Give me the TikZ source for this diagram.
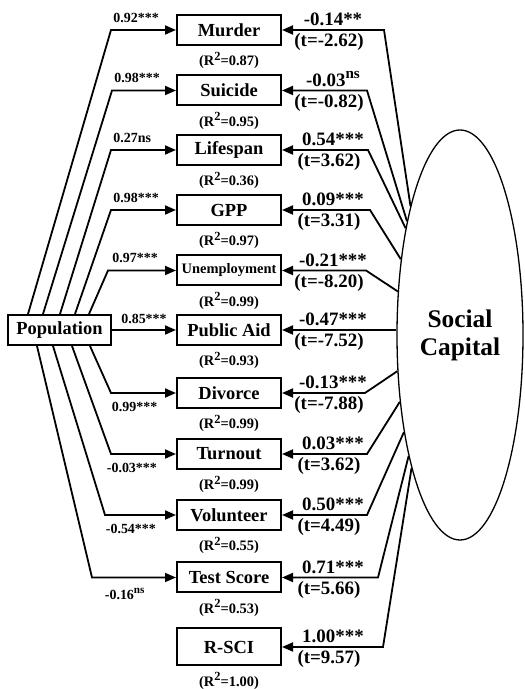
\documentclass[tikz,border=0pt]{standalone}
\usepackage{fontspec}
\setmainfont{Liberation Serif}
\usepackage{tikz}
\usetikzlibrary{arrows.meta,calc,positioning,shapes.geometric}
\newcommand{\lbl}{\fontsize{14}{16}\selectfont\bfseries}
\newcommand{\rlbl}{\fontsize{14.5}{16}\selectfont\bfseries}
\newcommand{\coef}{\fontsize{19}{21}\selectfont\bfseries}
\newcommand{\sq}{\raisebox{.4em}{\fontsize{12.5}{12.5}\selectfont 2}}
\newcommand{\ns}{\raisebox{.4em}{\fontsize{.8em}{1em}\selectfont ns}}
\tikzset{
  >={Triangle[length=11bp,width=9bp]},
  every node/.style={font=\bfseries},
  var/.style={draw,line width=2bp,minimum width=104bp,minimum height=30bp,inner sep=0pt,font=\fontsize{18.5}{20}\selectfont\bfseries},
  rsq/.style={inner sep=0pt,font=\rlbl},
  lu/.style={pos=0,anchor=base west,inner sep=0pt,yshift=7.5bp,xshift=1.5bp,font=\lbl},
  ld/.style={pos=0,anchor=north west,inner sep=0pt,yshift=-8bp,font=\lbl},
  lm/.style={midway,anchor=base,inner sep=0pt,yshift=6bp,font=\lbl},
  ru/.style={anchor=base,inner sep=0pt,yshift=4bp,font=\coef},
  rd/.style={anchor=north,inner sep=0pt,yshift=-3.5bp,font=\coef},
  link/.style={->,line width=1.8bp,line join=miter},
}
\begin{document}
\begin{tikzpicture}[x=1bp,y=1bp]
  \useasboundingbox (0,0) rectangle (525,689);
  % latent factor and exogenous variable
  \node[ellipse,draw,line width=1.3bp,minimum width=126bp,minimum height=410bp,inner sep=0pt,
        align=center,font=\fontsize{25.5}{28}\selectfont\bfseries] (sc) at (460,354) {Social\\Capital};
  \node[var,minimum width=103bp] (pop) at (59.5,359) {Population};
  % indicators
  \node[var] (mur) at (229,659) {Murder};
  \node[var] (sui) at (229,598.5) {Suicide};
  \node[var] (life) at (229,539) {Lifespan};
  \node[var] (gpp) at (229,479) {GPP};
  \node[var,font=\fontsize{14.5}{16}\selectfont\bfseries] (unem) at (229,418.5) {Unemployment};
  \node[var] (pa) at (229,359) {Public Aid};
  \node[var] (div) at (229,296) {Divorce};
  \node[var] (turn) at (229,235) {Turnout};
  \node[var] (vol) at (229,174) {Volunteer};
  \node[var] (test) at (229,111.5) {Test Score};
  \node[var,minimum height=37bp] (rsci) at (229,42) {R-SCI};
  \foreach \n/\r in {mur/0.87,sui/0.95,life/0.36,gpp/0.97,unem/0.99,pa/0.93,div/0.99,turn/0.99,vol/0.55,test/0.53,rsci/1.00}
    \node[rsq] (\n-r) at ($(\n.south)+(0,-14.5)$) {(R\sq=\r)};
  % paths from Population
  \draw[link] ([xshift=-31.5bp]pop.north) -- (111,659) -- node[lu] (mur-l) {0.92***} (mur);
  \draw[link] ([xshift=-16.5bp]pop.north) -- (112,598.5) -- node[lu] (sui-l) {0.98***} (sui);
  \draw[link] ([xshift=0.5bp]pop.north) -- (111,539) -- node[lu] (life-l) {0.27ns} (life);
  \draw[link] ([xshift=15.5bp]pop.north) -- (111,479) -- node[lu] (gpp-l) {0.98***} (gpp);
  \draw[link] ([xshift=29.5bp]pop.north) -- (108,418.5) -- node[lu,xshift=2bp] (unem-l) {0.97***} (unem);
  \draw[link] (pop) -- node[lm] (pa-l) {0.85***} (pa);
  \draw[link] ([xshift=30.5bp]pop.south) -- (111,296) -- node[ld] (div-l) {0.99***} (div);
  \draw[link] ([xshift=12.5bp]pop.south) -- (111,235) -- node[ld,xshift=-5bp] (turn-l) {-0.03***} (turn);
  \draw[link] ([xshift=-6.5bp]pop.south) -- (105,174) -- node[ld] (vol-l) {-0.54***} (vol);
  \draw[link] ([xshift=-22.5bp]pop.south) -- (92,111.5) -- node[ld,xshift=12bp,yshift=-2bp] (test-l) {-0.16\ns} (test);
  % loadings on Social Capital
  \draw[link] (sc.111) -- (384,659) -- (mur);
  \draw[link] (sc.115) -- (367,598.5) -- (sui);
  \draw[link] (sc.117) -- (368,539) -- (life);
  \draw[link] (sc.128) -- (370,479) -- (gpp);
  \draw[link] (sc.145) -- (366,418.5) -- (unem);
  \draw[link] (sc.west |- pa) -- (pa);
  \draw[link] (sc.210) -- (365,296) -- (div);
  \draw[link] (sc.228) -- (367,235) -- (turn);
  \draw[link] (sc.240) -- (367,174) -- (vol);
  \draw[link] (sc.247) -- (378,111.5) -- (test);
  \draw[link] (sc.250) -- (383,42) -- (rsci);
  \foreach \n/\u/\t in {mur/-0.14**/-2.62,sui/-0.03\ns/-0.82,life/0.54***/3.62,gpp/0.09***/3.31,
      unem/-0.21***/-8.20,pa/-0.47***/-7.52,div/-0.13***/-7.88,turn/0.03***/3.62,vol/0.50***/4.49,
      test/0.71***/5.66,rsci/1.00***/9.57} {
    \node[ru] (\n-b) at (333,0 |- \n) {\u};
    \node[rd] (\n-t) at (329,0 |- \n) {(t=\t)};
  }
\end{tikzpicture}
\end{document}
